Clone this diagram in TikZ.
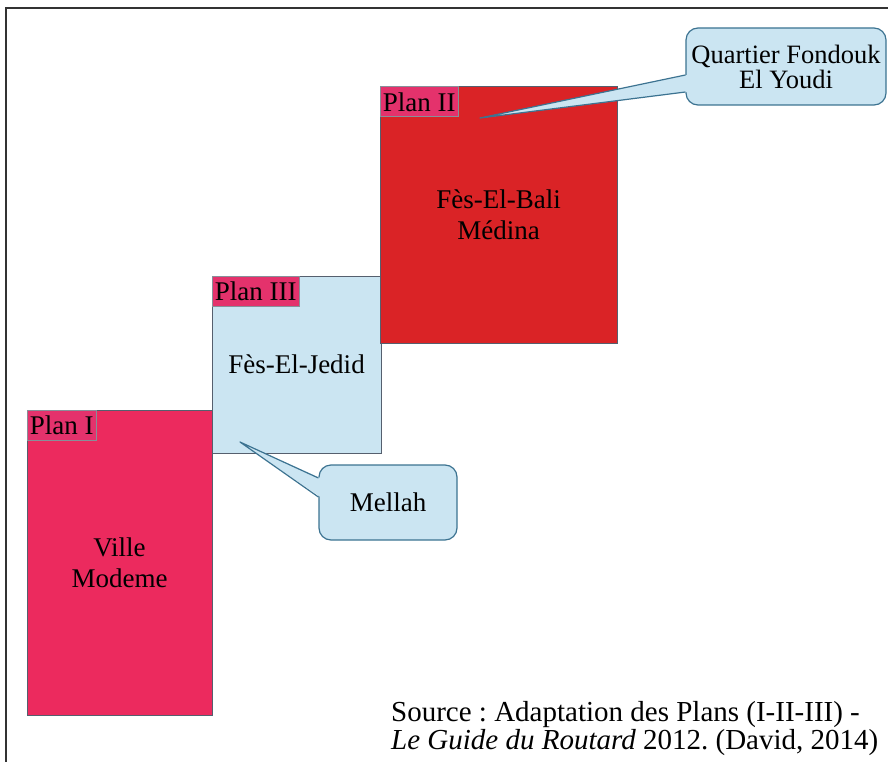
\documentclass[tikz,border=0pt]{standalone}
\usepackage{fontspec}
\setmainfont{Liberation Serif}
\usepackage{xcolor}
\usepackage{tikz}
\frenchspacing
\definecolor{planpink}{RGB}{236, 42, 94}
\definecolor{planred}{RGB}{218, 35, 38}
\definecolor{planblue}{RGB}{203, 229, 242}
\definecolor{tagpink}{RGB}{228, 50, 108}
\definecolor{edgeblue}{RGB}{60, 115, 145}
\definecolor{edgegrey}{RGB}{85, 95, 110}

\begin{document}
\begin{tikzpicture}[x=1pt, y=-1pt,
        zone/.style={draw=edgegrey, line width=1pt, inner sep=0pt, align=center, font=\fontsize{27}{31}\selectfont},
        tag/.style={draw=edgegrey!70, fill=tagpink, line width=0.6pt, anchor=north west, inner xsep=3pt, inner ysep=0pt, minimum height=30pt, font=\fontsize{27}{30}\selectfont},
        bubble/.style={draw=edgeblue, fill=planblue, line width=1.2pt, rounded corners=12pt, inner sep=0pt, align=center},
        pointer/.style={draw=edgeblue, line width=1.2pt, line join=round}]
        \useasboundingbox (0,0) rectangle (888,762);
        % Frame
        \coordinate (frameBL) at (6,762);
        \coordinate (frameTL) at (6,8);
        \coordinate (frameTR) at (888,8);
        \draw[line width=2pt, black!80] (frameBL) -- (frameTL) -- (frameTR);
        % Plans
        \node[zone, fill=planpink, minimum width=185pt, minimum height=305pt] (ville) at (119.5,562.5) {Ville\\Modeme};
        \node[zone, fill=planblue, minimum width=169pt, minimum height=177pt] (jedid) at (296.5,364.5) {Fès-El-Jedid};
        \node[zone, fill=planred, minimum width=237pt, minimum height=256pt] (bali) at (498.5,215) {Fès-El-Bali\\Médina};
        \node[tag] (tagI) at (ville.north west) {Plan I};
        \node[tag] (tagIII) at (jedid.north west) {Plan III};
        \node[tag] (tagII) at (bali.north west) {Plan II};
        % Callouts
        \node[bubble, minimum width=200pt, minimum height=77pt, font=\fontsize{26.5}{25}\selectfont] (fondouk) at (786,66.5) {Quartier Fondouk\\El Youdi};
        \node[bubble, minimum width=138pt, minimum height=75pt, font=\fontsize{27}{30}\selectfont] (mellah) at (388,502.5) {Mellah};
        \coordinate (fondoukTip) at (480,118);
        \coordinate (mellahTip) at (240,442);
        \fill[planblue] (fondoukTip) -- ([xshift=2pt, yshift=-8.5pt]fondouk.west) -- ([xshift=2pt, yshift=-25.5pt]fondouk.west) -- cycle;
        \draw[pointer] ([yshift=-8.5pt]fondouk.west) -- (fondoukTip) -- ([yshift=-25.5pt]fondouk.west);
        \fill[planblue] (mellahTip) -- ([xshift=2pt, yshift=24.5pt]mellah.west) -- ([xshift=2pt, yshift=5.5pt]mellah.west) -- cycle;
        \draw[pointer] ([yshift=24.5pt]mellah.west) -- (mellahTip) -- ([yshift=5.5pt]mellah.west);
        % Source
        \node[anchor=west, align=left, inner sep=0pt, font=\fontsize{29}{28}\selectfont] (source) at (391,729) {Source : Adaptation des Plans (I-II-III) -\\\textit{Le Guide du Routard} 2012. (David, 2014)};
    \end{tikzpicture}
\end{document}
